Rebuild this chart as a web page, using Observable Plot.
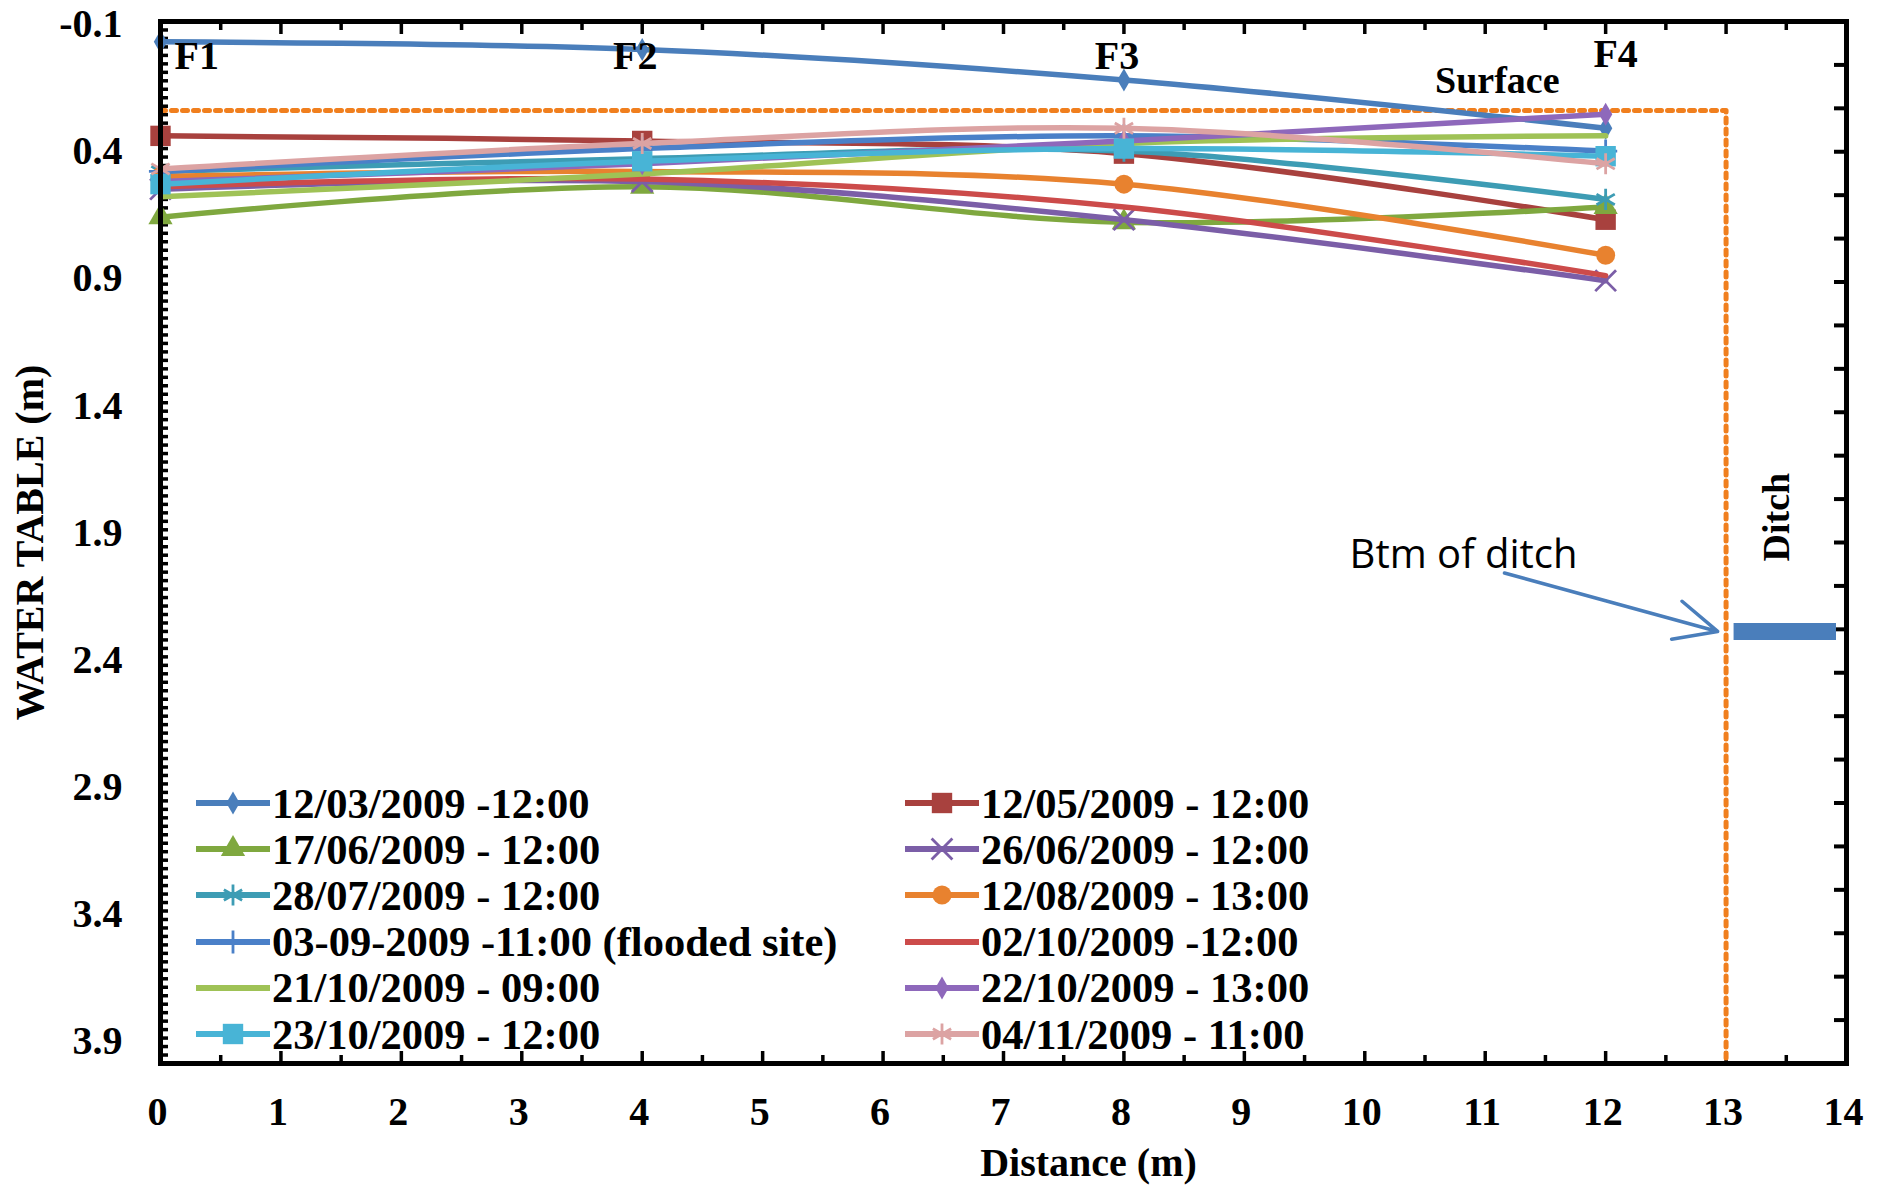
<!DOCTYPE html>
<html>
<head>
<meta charset="utf-8">
<script src="https://cdn.jsdelivr.net/npm/d3@7"></script>
<script src="https://cdn.jsdelivr.net/npm/@observablehq/plot@0.6"></script>
<style>
  html, body { margin: 0; padding: 0; background: #fff; }
  #wrap { position: relative; width: 1879px; height: 1186px; overflow: hidden; }
  .leg { position: absolute; display: flex; align-items: center; height: 46px;
         font: bold 42.5px "Liberation Serif", "DejaVu Serif", serif; color: #000; white-space: nowrap; }
  .leg svg { display: block; flex: none; }
</style>
</head>
<body>
<div id="wrap"></div>
<script>
// ---------------- data ----------------
const distances = [0, 4, 8, 12];               // m, wells F1..F4
const wellLabels = ["F1", "F2", "F3", "F4"];
const seriesNames = [
  "12/03/2009 -12:00",
  "12/05/2009 - 12:00",
  "17/06/2009 - 12:00",
  "26/06/2009 - 12:00",
  "28/07/2009 - 12:00",
  "12/08/2009 - 13:00",
  "03-09-2009 -11:00 (flooded site)",
  "02/10/2009 -12:00",
  "21/10/2009 - 09:00",
  "22/10/2009 - 13:00",
  "23/10/2009 - 12:00",
  "04/11/2009 - 11:00"
];
// water table depth (m) at F1, F2, F3, F4
const wt_12_03 = [-0.02, 0.01, 0.13, 0.32];
const wt_12_05 = [0.35, 0.37, 0.42, 0.68];
const wt_17_06 = [0.67, 0.55, 0.69, 0.63];
const wt_26_06 = [0.56, 0.53, 0.68, 0.92];
const wt_28_07 = [0.49, 0.44, 0.41, 0.60];
const wt_12_08 = [0.51, 0.49, 0.54, 0.82];
const wt_03_09 = [0.49, 0.40, 0.35, 0.41];
const wt_02_10 = [0.55, 0.52, 0.63, 0.90];
const wt_21_10 = [0.59, 0.50, 0.38, 0.35];
const wt_22_10 = [0.53, 0.46, 0.37, 0.265];
const wt_23_10 = [0.54, 0.45, 0.40, 0.43];
const wt_04_11 = [0.48, 0.38, 0.32, 0.46];
const seriesValues = [wt_12_03, wt_12_05, wt_17_06, wt_26_06, wt_28_07, wt_12_08,
                      wt_03_09, wt_02_10, wt_21_10, wt_22_10, wt_23_10, wt_04_11];

const surfaceLevel = 0.25;   // ground surface (m)
const ditchEdge = 13;        // m
const ditchBottom = 2.3;     // m
const yTickValues = [-0.1, 0.4, 0.9, 1.4, 1.9, 2.4, 2.9, 3.4, 3.9];
const xTickValues = [0, 1, 2, 3, 4, 5, 6, 7, 8, 9, 10, 11, 12, 13, 14];

// ---------------- styles ----------------
const seriesStyle = [
  {color: "#4a7ebb", symbol: "diamond",  r: 7,    filled: true},
  {color: "#a8413e", symbol: "square",   r: 11.5, filled: true},
  {color: "#7fa83f", symbol: "triangle", r: 9,    filled: true},
  {color: "#7b5ea7", symbol: "times",    r: 9.5,  filled: false},
  {color: "#3d9cb4", symbol: "asterisk", r: 10,   filled: false},
  {color: "#e8822f", symbol: "circle",   r: 9.5,  filled: true},
  {color: "#4a80c8", symbol: "plus",     r: 7.5,  filled: false},
  {color: "#cc4b4a", symbol: null},
  {color: "#9fc256", symbol: null},
  {color: "#8e68bb", symbol: "diamond",  r: 7,    filled: true},
  {color: "#48b4d6", symbol: "square",   r: 11.5, filled: true},
  {color: "#dca3a3", symbol: "asterisk", r: 10,   filled: false}
];
const serif = "Liberation Serif";
const W = 1879, H = 1186;
const mLeft = 160, mRight = 33, mTop = 21, mBottom = 123;

const rows = seriesNames.flatMap((name, i) =>
  distances.map((d, j) => ({series: name, distance: d, depth: seriesValues[i][j]})));
const wells = wellLabels.map((label, i) => ({label, distance: distances[i]}));
const surfaceProfile = [
  {distance: distances[0], depth: surfaceLevel},
  {distance: ditchEdge, depth: surfaceLevel},
  {distance: ditchEdge, depth: 4.0}
];

const seriesMarks = seriesNames.flatMap((name, i) => {
  const data = rows.filter(r => r.series === name);
  const st = seriesStyle[i];
  const m = [Plot.line(data, {x: "distance", y: "depth", stroke: st.color, strokeWidth: 5.5, curve: "catmull-rom"})];
  if (st.symbol) {
    m.push(Plot.dot(data, {x: "distance", y: "depth", symbol: st.symbol, r: st.r,
      fill: st.filled ? st.color : "none", stroke: st.filled ? "none" : st.color, strokeWidth: 2.8}));
  }
  return m;
});

const rightTicks = d3.range(-0.1, 4.0001, 4.1 / 24);
const minorY = d3.range(-0.1, 4.0, 1 / 30);
const halfX = d3.range(0.5, 14, 1);

const chart = Plot.plot({
  width: W, height: H,
  marginLeft: mLeft, marginRight: mRight, marginTop: mTop, marginBottom: mBottom,
  style: {fontFamily: serif, fontWeight: "bold", fontSize: "40px", color: "#000", background: "#fff"},
  x: {domain: [0, 14]},
  y: {domain: [-0.1, 4.0], reverse: true},
  marks: [
    // tick labels
    Plot.axisY({ticks: yTickValues, tickFormat: d => d.toFixed(1), tickSize: 0, tickPadding: 38, dy: 3, label: null, fontSize: 40}),
    Plot.axisX({ticks: xTickValues, tickFormat: d => String(d), tickSize: 0, tickPadding: 33, dx: -3, label: null, fontSize: 40}),
    // inward ticks
    Plot.axisY({ticks: minorY, tickSize: 8, dx: 8, tickFormat: () => "", label: null, strokeWidth: 3.5}),
    Plot.axisY({anchor: "right", ticks: rightTicks, tickSize: 13, dx: -13, tickFormat: () => "", label: null, strokeWidth: 4}),
    Plot.axisX({ticks: xTickValues, tickSize: 12, dy: -12, tickFormat: () => "", label: null, strokeWidth: 3.5}),
    Plot.axisX({ticks: halfX, tickSize: 8, dy: -8, tickFormat: () => "", label: null, strokeWidth: 3.5}),
    Plot.axisX({anchor: "top", ticks: xTickValues, tickSize: 12, dy: 12, tickFormat: () => "", label: null, strokeWidth: 3.5}),
    Plot.axisX({anchor: "top", ticks: halfX, tickSize: 8, dy: 8, tickFormat: () => "", label: null, strokeWidth: 3.5}),
    // surface and ditch
    Plot.line(surfaceProfile, {x: "distance", y: "depth", stroke: "#f07f1e", strokeWidth: 5, strokeDasharray: "5,6"}),
    Plot.ruleY([ditchBottom], {x1: ditchEdge, x2: 14, stroke: "#4a7ebb", strokeWidth: 17, insetLeft: 8, insetRight: 10}),
    Plot.arrow([{x1: 11.16, y1: 2.07, x2: 12.93, y2: ditchBottom}], {x1: "x1", y1: "y1", x2: "x2", y2: "y2",
      stroke: "#4a7ebb", strokeWidth: 3.5, headLength: 20, headAngle: 50}),
    Plot.text(["Btm of ditch"], {x: 10.82, y: 2.0, fontFamily: "Open Sans", fontWeight: "normal", fontSize: 40, fill: "#000"}),
    Plot.text(["Surface"], {x: 11.1, y: surfaceLevel, dy: -30, fontSize: 38}),
    Plot.text(["Ditch"], {x: 13.42, y: 1.85, rotate: -90, fontSize: 38}),
    // series
    ...seriesMarks,
    // well labels
    Plot.text(wells.slice(0, 1), {x: "distance", y: -0.1, text: "label", dy: 35, dx: 14, textAnchor: "start", fontSize: 40}),
    Plot.text(wells.slice(1, 3), {x: "distance", y: -0.1, text: "label", dy: 35, dx: -7, fontSize: 40}),
    Plot.text(wells.slice(3), {x: "distance", y: -0.1, text: "label", dy: 33, dx: 10, fontSize: 40}),
    // axis titles
    Plot.text(["Distance (m)"], {frameAnchor: "bottom", dy: 100, dx: 85, textAnchor: "middle", lineAnchor: "middle", fontSize: 40}),
    Plot.text(["WATER TABLE (m)"], {frameAnchor: "left", dx: -130, textAnchor: "middle", lineAnchor: "middle", rotate: -90, fontSize: 40}),
    Plot.frame({stroke: "#000", strokeWidth: 5})
  ]
});

const wrap = document.getElementById("wrap");
wrap.appendChild(chart);

// ---------------- legend (overlay inside plot area) ----------------
const symbolMap = {diamond: d3.symbolDiamond, square: d3.symbolSquare, triangle: d3.symbolTriangle,
  times: d3.symbolTimes, asterisk: d3.symbolAsterisk, circle: d3.symbolCircle, plus: d3.symbolPlus};
const legendCols = [{swatchLeft: 196, items: [0, 2, 4, 6, 8, 10]}, {swatchLeft: 905, items: [1, 3, 5, 7, 9, 11]}];
const rowTop = 780, rowStep = 46.2;
legendCols.forEach(col => {
  col.items.forEach((si, k) => {
    const st = seriesStyle[si];
    const div = d3.select(wrap).append("div").attr("class", "leg")
      .style("left", col.swatchLeft + "px").style("top", (rowTop + k * rowStep) + "px");
    const svg = div.append("svg").attr("width", 76).attr("height", 46);
    svg.append("line").attr("x1", 0).attr("x2", 74).attr("y1", 23).attr("y2", 23)
      .attr("stroke", st.color).attr("stroke-width", 6);
    if (st.symbol) {
      svg.append("path").attr("transform", "translate(37,23)")
        .attr("d", d3.symbol(symbolMap[st.symbol], Math.PI * st.r * st.r)())
        .attr("fill", st.filled ? st.color : "none")
        .attr("stroke", st.filled ? "none" : st.color).attr("stroke-width", 2.8);
    }
    div.append("span").text(seriesNames[si]);
  });
});
</script>
</body>
</html>
